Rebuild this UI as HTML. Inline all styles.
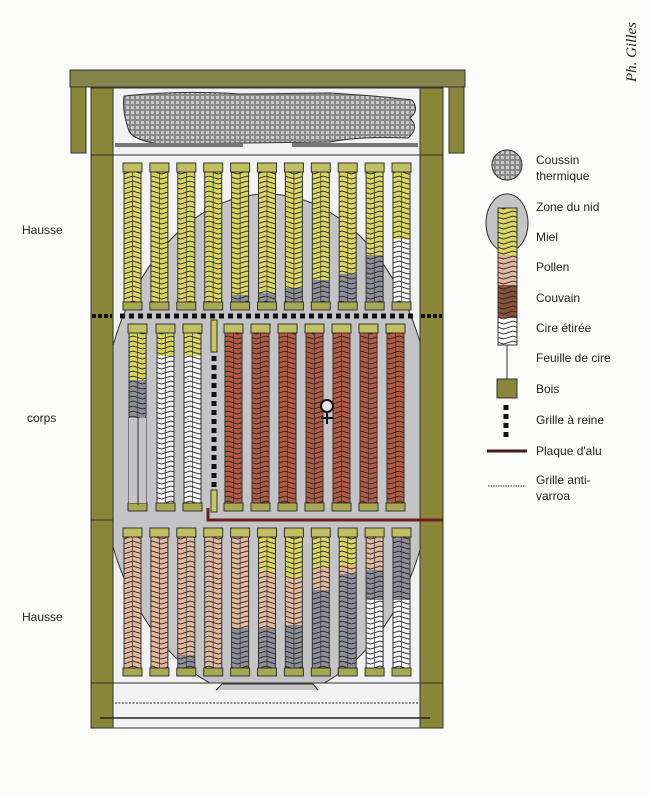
<!DOCTYPE html>
<html><head><meta charset="utf-8"><style>
html,body{margin:0;padding:0;background:#fcfcfa;}
svg{display:block}
text{font-family:"Liberation Sans",sans-serif;font-size:12px;fill:#222}
</style></head><body>
<svg id="s" width="650" height="796" viewBox="0 0 650 796" xmlns="http://www.w3.org/2000/svg">
<defs>
<pattern id="chev" width="19" height="5" patternUnits="userSpaceOnUse">
<path d="M0,1 L9.5,4 L19,1" fill="none" stroke="#222" stroke-width="0.9"/>
</pattern>
<pattern id="tex" width="5" height="5" patternUnits="userSpaceOnUse">
<rect width="5" height="5" fill="#8a8a8a"/><rect x="1" y="1" width="3" height="3" fill="#c8c8c8"/>
</pattern>
<clipPath id="inner"><rect x="113" y="155" width="307" height="528"/></clipPath>
</defs>
<rect width="650" height="796" fill="#fcfcfa"/>
<text x="0" y="0" transform="translate(636,82) rotate(-90)" style="font-family:'Liberation Serif',serif;font-style:italic;font-size:15px">Ph. Gilles</text>

<rect x="113" y="88" width="307" height="640" fill="#f2f2f2" stroke="#333" stroke-width="1"/>
<ellipse cx="267" cy="446" rx="168" ry="252" fill="#c4c4c6" stroke="#333" clip-path="url(#inner)"/>
<rect x="70" y="70" width="395" height="17" fill="#85834a" stroke="#333"/>
<rect x="71" y="87" width="15" height="66" fill="#8a8838" stroke="#333"/>
<rect x="449" y="87" width="15" height="66" fill="#8a8838" stroke="#333"/>
<rect x="91" y="88" width="22" height="640" fill="#8a8838" stroke="#333"/>
<rect x="420" y="88" width="23" height="640" fill="#8a8838" stroke="#333"/>
<g stroke="#333" stroke-width="1">
<line x1="91" y1="155" x2="443" y2="155"/>
<line x1="91" y1="520" x2="113" y2="520"/>
<line x1="420" y1="520" x2="443" y2="520"/>
<line x1="91" y1="683" x2="443" y2="683"/>
</g>
<path d="M124,96 Q180,90 240,94 L330,93 Q380,96 412,100 Q420,110 410,118 Q420,128 408,138 Q360,136 330,142 L160,144 Q130,140 128,128 Q122,110 124,96Z" fill="url(#tex)" stroke="#333"/>
<rect x="115" y="143" width="128" height="4" fill="#777"/>
<rect x="292" y="143" width="126" height="4" fill="#777"/>
<g id="frames"></g>
<line x1="120" y1="316" x2="414" y2="316" stroke="#111" stroke-width="5" stroke-dasharray="5,4"/>
<line x1="92" y1="316" x2="112" y2="316" stroke="#111" stroke-width="4" stroke-dasharray="4,2"/>
<line x1="421" y1="316" x2="442" y2="316" stroke="#111" stroke-width="4" stroke-dasharray="4,2"/>
<rect x="211" y="320" width="6" height="32" fill="#c8c860" stroke="#333"/>
<line x1="214" y1="356" x2="214" y2="488" stroke="#111" stroke-width="5" stroke-dasharray="5,4"/>
<rect x="211" y="490" width="6" height="22" fill="#c8c860" stroke="#333"/>
<polyline points="208,508 208,520 443,520" fill="none" stroke="#6a1e1e" stroke-width="3"/>
<g id="queen" stroke="#111" stroke-width="2" fill="none">
<circle cx="327" cy="406" r="6" fill="#e8e8e8"/>
<line x1="327" y1="412" x2="327" y2="424"/>
<line x1="321" y1="418" x2="333" y2="418"/>
</g>
<line x1="115" y1="703" x2="418" y2="703" stroke="#222" stroke-dasharray="2,1.5"/>
<line x1="100" y1="718" x2="430" y2="718" stroke="#222" stroke-width="1.5"/>
<path d="M216,690 L222,684 L313,684 L318,690" fill="#c4c4c6" stroke="#333"/>

<text x="22" y="234">Hausse</text>
<text x="27" y="422">corps</text>
<text x="22" y="621">Hausse</text>

<circle cx="507" cy="165" r="15" fill="url(#tex)" stroke="#333"/>
<ellipse cx="507" cy="223" rx="21" ry="29" fill="#c4c4c6" stroke="#333"/>
<rect x="498" y="208" width="19" height="47" fill="#d8d660"/>
<rect x="498" y="255" width="19" height="30" fill="#e0b8a0"/>
<rect x="498" y="285" width="19" height="33" fill="#8a5038"/>
<rect x="498" y="318" width="19" height="27" fill="#fff"/>
<rect x="498" y="208" width="19" height="137" fill="url(#chev)" stroke="#333"/>
<line x1="507" y1="345" x2="507" y2="380" stroke="#333"/>
<rect x="497" y="379" width="20" height="19" fill="#8a8838" stroke="#333"/>
<line x1="506" y1="405" x2="506" y2="440" stroke="#111" stroke-width="5" stroke-dasharray="5,4"/>
<line x1="487" y1="451" x2="527" y2="451" stroke="#4a1818" stroke-width="3"/>
<line x1="488" y1="486" x2="526" y2="486" stroke="#333" stroke-dasharray="1.5,1"/>
<text x="536" y="164">Coussin</text><text x="536" y="180">thermique</text>
<text x="536" y="211">Zone du nid</text>
<text x="536" y="241">Miel</text>
<text x="536" y="271">Pollen</text>
<text x="536" y="302">Couvain</text>
<text x="536" y="332">Cire étirée</text>
<text x="536" y="362">Feuille de cire</text>
<text x="536" y="393">Bois</text>
<text x="536" y="424">Grille à reine</text>
<text x="536" y="455">Plaque d'alu</text>
<text x="536" y="484">Grille anti-</text><text x="536" y="500">varroa</text>
</svg>
<script>
(function(){
var NS="http://www.w3.org/2000/svg",g=document.getElementById("frames");
function el(t,a){var e=document.createElementNS(NS,t);for(var k in a)e.setAttribute(k,a[k]);g.appendChild(e);return e;}
var C={y:"#d8d660",p:"#e2b89c",b:"#b45a42",g:"#8e8e98",w:"#f4f4f4"};
function frame(x,t,ct,cb,b,segs){
 el("rect",{x:x,y:t,width:19,height:ct-t,fill:"#c0c060",stroke:"#333"});
 el("rect",{x:x,y:cb,width:19,height:b-cb,fill:"#a8a850",stroke:"#333"});
 var y=ct;
 for(var i=0;i<segs.length;i++){var e=segs[i][1];el("rect",{x:x+1,y:y,width:17,height:e-y,fill:C[segs[i][0]]});y=e;}
 el("rect",{x:x+1,y:ct,width:17,height:cb-ct,fill:"url(#chev)",stroke:"#333"});
 el("line",{x1:x+9.5,y1:ct,x2:x+9.5,y2:cb,stroke:"#333","stroke-width":0.7});
}
var xs=[],i;for(i=0;i<11;i++)xs.push(123+i*26.9);
var upper=[[["y",302]],[["y",302]],[["y",302]],[["y",302]],[["y",295],["g",302]],[["y",293],["g",302]],[["y",288],["g",302]],[["y",280],["g",302]],[["y",274],["g",302]],[["y",255],["g",302]],[["y",239],["w",302]]];
for(i=0;i<11;i++)frame(xs[i],163,172,302,310,upper[i]);
frame(128,324,333,503,511,[["y",380],["g",418],["w",503]]);
el("rect",{x:129,y:418,width:17,height:85,fill:"#c4c4c6"});
el("line",{x1:138,y1:418,x2:138,y2:505,stroke:"#333"});
frame(156,324,333,503,511,[["y",356],["w",503]]);
frame(183,324,333,503,511,[["y",356],["w",503]]);
for(i=0;i<7;i++)frame(224+i*27,324,333,503,511,[["b",503]]);
var lower=[[["p",668]],[["p",668]],[["p",655],["g",668]],[["p",668]],[["p",628],["g",668]],[["y",573],["p",628],["g",668]],[["y",578],["p",625],["g",668]],[["y",568],["p",590],["g",668]],[["y",565],["p",574],["g",668]],[["p",570],["g",600],["w",668]],[["g",600],["w",668]]];
for(i=0;i<11;i++)frame(xs[i],528,537,668,676,lower[i]);
var q=document.getElementById("queen");q.parentNode.appendChild(q);
})();
</script>
</body></html>
